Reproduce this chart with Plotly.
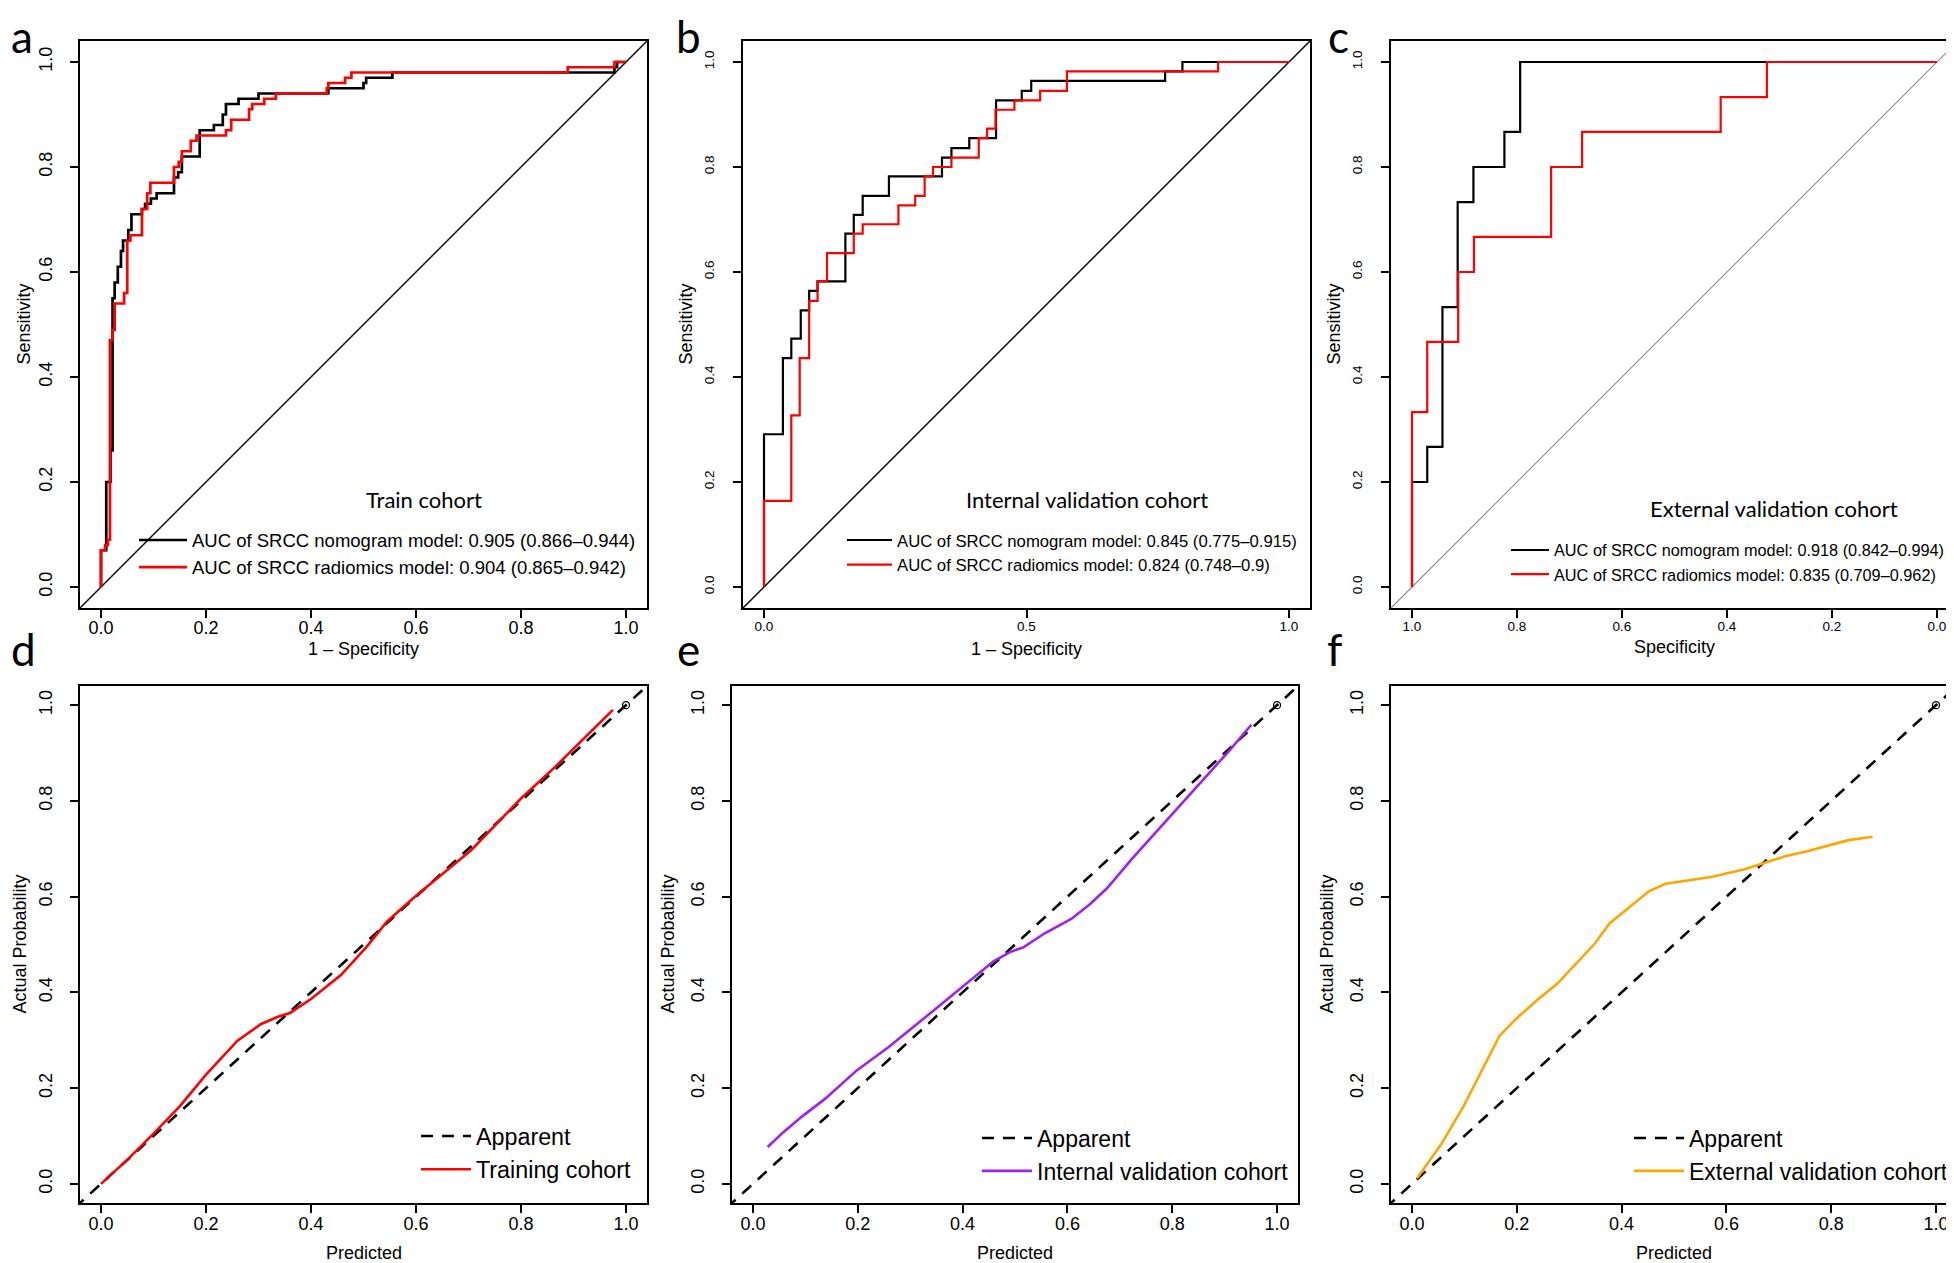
import plotly.graph_objects as go

W, H = 1954, 1263

# ---------------- DATA ----------------
# Panel a: Train cohort ROC (x = 1 - specificity, y = sensitivity)
a_nomo_fpr = [0, 0, 0.01, 0.018, 0.022, 0.026, 0.032, 0.038, 0.042, 0.052, 0.058, 0.078, 0.084, 0.095, 0.106,
              0.139, 0.147, 0.154, 0.188, 0.215, 0.232, 0.238, 0.262, 0.30, 0.433, 0.50, 0.505, 0.555, 0.978, 0.983, 1.0]
a_nomo_tpr = [0, 0.07, 0.20, 0.26, 0.55, 0.58, 0.61, 0.64, 0.66, 0.68, 0.71, 0.72, 0.73, 0.74, 0.75,
              0.78, 0.79, 0.82, 0.87, 0.88, 0.90, 0.92, 0.93, 0.94, 0.95, 0.96, 0.97, 0.98, 0.99, 1.0, 1.0]
a_radi_fpr = [0, 0, 0.008, 0.013, 0.017, 0.022, 0.026, 0.044, 0.05, 0.056, 0.078, 0.088, 0.094, 0.139, 0.148,
              0.154, 0.171, 0.182, 0.238, 0.248, 0.282, 0.288, 0.311, 0.333, 0.43, 0.433, 0.465, 0.477, 0.889, 0.978, 1.0]
a_radi_tpr = [0, 0.07, 0.08, 0.09, 0.47, 0.49, 0.54, 0.56, 0.66, 0.67, 0.72, 0.75, 0.77, 0.80, 0.81,
              0.83, 0.85, 0.86, 0.87, 0.89, 0.91, 0.92, 0.93, 0.94, 0.95, 0.96, 0.97, 0.98, 0.99, 1.0, 1.0]

# Panel b: Internal validation cohort ROC
b_nomo_fpr = [0, 0, 0.036, 0.052, 0.07, 0.086, 0.102, 0.155, 0.171, 0.188, 0.238, 0.339, 0.357, 0.391,
              0.442, 0.491, 0.509, 0.764, 0.797, 1.0]
b_nomo_tpr = [0, 0.291, 0.436, 0.473, 0.527, 0.564, 0.582, 0.673, 0.709, 0.745, 0.782, 0.818, 0.836, 0.855,
              0.927, 0.945, 0.964, 0.982, 1.0, 1.0]
b_radi_fpr = [0, 0, 0.052, 0.068, 0.086, 0.102, 0.12, 0.171, 0.188, 0.256, 0.288, 0.306, 0.322, 0.357,
              0.409, 0.425, 0.441, 0.477, 0.526, 0.577, 0.865, 1.0]
b_radi_tpr = [0, 0.164, 0.327, 0.436, 0.545, 0.582, 0.636, 0.673, 0.691, 0.727, 0.745, 0.782, 0.80, 0.818,
              0.855, 0.873, 0.909, 0.927, 0.945, 0.982, 1.0, 1.0]

# Panel c: External validation cohort ROC (x = specificity, reversed axis)
c_nomo_spec = [1.0, 1.0, 0.971, 0.942, 0.913, 0.883, 0.824, 0.794, 0.0]
c_nomo_sens = [0, 0.2, 0.267, 0.533, 0.733, 0.8, 0.867, 1.0, 1.0]
c_radi_spec = [1.0, 1.0, 0.971, 0.912, 0.882, 0.735, 0.676, 0.412, 0.324, 0.0]
c_radi_sens = [0, 0.333, 0.467, 0.6, 0.667, 0.8, 0.867, 0.933, 1.0, 1.0]

roc_legend_labels = {
    "a": ["AUC of SRCC nomogram model: 0.905 (0.866\u20130.944)", "AUC of SRCC radiomics model: 0.904 (0.865\u20130.942)"],
    "b": ["AUC of SRCC nomogram model: 0.845 (0.775\u20130.915)", "AUC of SRCC radiomics model: 0.824 (0.748\u20130.9)"],
    "c": ["AUC of SRCC nomogram model: 0.918 (0.842\u20130.994)", "AUC of SRCC radiomics model: 0.835 (0.709\u20130.962)"],
}

# Calibration curves (predicted vs actual probability)
d_pred = [0.0, 0.05, 0.1, 0.15, 0.2, 0.26, 0.305, 0.337, 0.36, 0.40, 0.457, 0.505, 0.545, 0.60, 0.705, 0.80, 0.865, 0.975]
d_obs = [0.0, 0.05, 0.105, 0.162, 0.228, 0.299, 0.334, 0.349, 0.357, 0.386, 0.436, 0.494, 0.548, 0.602, 0.697, 0.805, 0.871, 0.99]
e_pred = [0.028, 0.058, 0.094, 0.138, 0.198, 0.259, 0.339, 0.399, 0.459, 0.492, 0.516, 0.556, 0.608, 0.644, 0.676,
          0.724, 0.797, 0.861, 0.909, 0.951]
e_obs = [0.077, 0.108, 0.141, 0.178, 0.237, 0.286, 0.357, 0.411, 0.465, 0.485, 0.494, 0.523, 0.554, 0.585, 0.618,
         0.680, 0.768, 0.846, 0.905, 0.959]
f_pred = [0.0095, 0.056, 0.097, 0.131, 0.167, 0.198, 0.238, 0.278, 0.31, 0.349, 0.377, 0.413, 0.452, 0.484, 0.516,
          0.571, 0.635, 0.675, 0.714, 0.754, 0.806, 0.833, 0.879]
f_obs = [0.011, 0.083, 0.159, 0.232, 0.309, 0.344, 0.383, 0.419, 0.456, 0.502, 0.544, 0.577, 0.611, 0.627, 0.632,
         0.641, 0.657, 0.672, 0.685, 0.695, 0.711, 0.718, 0.725]
ideal_line = [-0.05, 1.05]
ideal_point = [1.0]

cal_labels = ["Training cohort", "Internal validation cohort", "External validation cohort"]
cal_colors = ["#FF0000", "#A020F0", "#FFA500"]

ticks_02 = [0, 0.2, 0.4, 0.6, 0.8, 1.0]
ticks_02_text = ["0.0", "0.2", "0.4", "0.6", "0.8", "1.0"]
ticks_05 = [0, 0.5, 1.0]
ticks_05_text = ["0.0", "0.5", "1.0"]

# ---------------- LAYOUT ----------------
SANS = "Liberation Sans, Arial, sans-serif"
CAL = "Lato, Open Sans, sans-serif"

# panel boxes in pixels: left, right, top, bottom
BOX = {
    1: (72, 639, 33, 600),
    2: (735, 1302, 33, 600),
    3: (1383, 1950, 33, 600),
    4: (72, 639, 678, 1195),
    5: (724, 1290, 678, 1195),
    6: (1383, 1949, 678, 1195),
}

def sfx(i):
    return "" if i == 1 else str(i)

fig = go.Figure()

def roc_trace(x, y, color, width, name, i, leg):
    return go.Scatter(x=x, y=y, mode="lines", line=dict(color=color, width=width, shape="hv"),
                      name=name, legend=leg, legendgroup=name, xaxis="x" + sfx(i), yaxis="y" + sfx(i),
                      hoverinfo="skip")

fig.add_trace(roc_trace(a_nomo_fpr, a_nomo_tpr, "black", 2.7, roc_legend_labels["a"][0], 1, "legend"))
fig.add_trace(roc_trace(a_radi_fpr, a_radi_tpr, "#FF0000", 2.7, roc_legend_labels["a"][1], 1, "legend"))
fig.add_trace(roc_trace(b_nomo_fpr, b_nomo_tpr, "black", 2.2, roc_legend_labels["b"][0], 2, "legend2"))
fig.add_trace(roc_trace(b_radi_fpr, b_radi_tpr, "#FF0000", 2.2, roc_legend_labels["b"][1], 2, "legend2"))
fig.add_trace(roc_trace(c_nomo_spec, c_nomo_sens, "black", 2.2, roc_legend_labels["c"][0], 3, "legend3"))
fig.add_trace(roc_trace(c_radi_spec, c_radi_sens, "#FF0000", 2.2, roc_legend_labels["c"][1], 3, "legend3"))

cal_data = [(d_pred, d_obs), (e_pred, e_obs), (f_pred, f_obs)]
for k, (px_, ob) in enumerate(cal_data):
    i = 4 + k
    leg = "legend" + str(i)
    fig.add_trace(go.Scatter(x=ideal_line, y=ideal_line, mode="lines",
                             line=dict(color="black", width=2.6, dash="12px,9px"),
                             name="Apparent", legend=leg, legendgroup="app" + str(i),
                             xaxis="x" + sfx(i), yaxis="y" + sfx(i), hoverinfo="skip"))
    fig.add_trace(go.Scatter(x=px_, y=ob, mode="lines", line=dict(color=cal_colors[k], width=2.6),
                             name=cal_labels[k], legend=leg, legendgroup="cal" + str(i),
                             xaxis="x" + sfx(i), yaxis="y" + sfx(i), hoverinfo="skip"))
    fig.add_trace(go.Scatter(x=ideal_point, y=ideal_point, mode="markers",
                             marker=dict(symbol="circle-open", size=7, color="black", line=dict(width=1.3)),
                             showlegend=False, xaxis="x" + sfx(i), yaxis="y" + sfx(i), hoverinfo="skip"))

layout = dict(width=W, height=H, margin=dict(l=0, r=0, t=0, b=0), paper_bgcolor="white",
              plot_bgcolor="white", font=dict(family=SANS, color="black"), showlegend=True)

tick_fs = {1: 18, 2: 13.5, 3: 13.5, 4: 18, 5: 18, 6: 18}
x_standoff = {1: -5, 2: -3, 3: -3, 4: -4, 5: -4, 6: -4}
y_standoff = {1: 11, 2: 14, 3: 14, 4: 11, 5: 11, 6: 11}
for i, (l, r, t, b) in BOX.items():
    s = sfx(i)
    common = dict(ticks="outside", ticklen=8, tickwidth=1.6, tickcolor="black", showline=True,
                  linecolor="black", linewidth=1.7, mirror=True, showgrid=False, zeroline=False,
                  tickfont=dict(family=SANS, size=tick_fs[i], color="black"), fixedrange=True)
    if i == 2:
        xt, xtt = ticks_05, ticks_05_text
    elif i == 3:
        xt, xtt = ticks_02[::-1], ticks_02_text[::-1]
    else:
        xt, xtt = ticks_02, ticks_02_text
    xr = [1.04, -0.04] if i == 3 else [-0.04, 1.04]
    layout["xaxis" + s] = dict(domain=[l / W, r / W], anchor="y" + s, range=xr, tickvals=xt,
                               ticktext=xtt, ticklabelstandoff=x_standoff[i], **common)
    layout["yaxis" + s] = dict(domain=[1 - b / H, 1 - t / H], anchor="x" + s, range=[-0.04, 1.04],
                               tickvals=ticks_02, ticktext=ticks_02_text, tickangle=-90,
                               ticklabelstandoff=y_standoff[i], **common)

# legends: (text start x px, first item centre y px, font size, itemwidth, gap)
LEG = {
    1: (192, 539, 18.5, 48, 3),
    2: (897, 539, 16.7, 45, 4),
    3: (1554, 549, 16.3, 38, 0),
    4: (476, 1135, 23.3, 50, 0),
    5: (1037, 1137, 23, 50, 0),
    6: (1689, 1137, 23, 50, 0),
}
for i, (tx, cy, fs, iw, gap) in LEG.items():
    key = "legend" if i == 1 else "legend" + str(i)
    ox = tx - iw - 18
    top = cy - 5 - fs * 1.3 / 2 - 1.5 - 7
    layout[key] = dict(x=ox / W, y=1 - top / H, xanchor="left", yanchor="top", xref="paper", yref="paper",
                       bgcolor="rgba(0,0,0,0)", borderwidth=0, itemwidth=iw, tracegroupgap=gap,
                       traceorder="normal", font=dict(family=SANS, size=fs, color="black"))

fig.update_layout(**layout)

# diagonal reference lines on ROC panels
for i, col, wd in [(1, "black", 1.4), (2, "black", 1.4), (3, "#8c8c8c", 1.1)]:
    s = sfx(i)
    fig.add_shape(type="line", xref="x" + s + " domain", yref="y" + s + " domain", x0=0, y0=0, x1=1, y1=1,
                  line=dict(color=col, width=wd), layer="below")

ann = []
def text(x, y, t, size, family=SANS, angle=0, yanchor="middle"):
    ann.append(dict(x=x / W, y=1 - y / H, xref="paper", yref="paper", text=t, showarrow=False,
                    xanchor="center", yanchor=yanchor, textangle=angle,
                    font=dict(family=family, size=size, color="black")))

# panel letters (anchored by the top of their text box)
for lt, x, y in [("a", 14, 0), ("b", 680, 0), ("c", 1330, 0), ("d", 15, 613), ("e", 680, 613), ("f", 1326, 613)]:
    text(x, y, lt, 44, CAL, yanchor="top")

# axis titles
text(355.5, 641, "1 \u2013 Specificity", 18)
text(1018.5, 641, "1 \u2013 Specificity", 18)
text(1666.5, 639, "Specificity", 18)
text(15, 316.5, "Sensitivity", 18, angle=-90)
text(677, 316.5, "Sensitivity", 18, angle=-90)
text(1325, 316.5, "Sensitivity", 18, angle=-90)
for cx in [355.5, 1007, 1666]:
    text(cx, 1245, "Predicted", 18)
for cx in [11, 659, 1318]:
    text(cx, 936.5, "Actual Probability", 18, angle=-90)

# cohort titles
text(416, 491, "Train cohort", 22, CAL)
text(1079, 492, "Internal validation cohort", 22, CAL)
text(1766, 500, "External validation cohort", 22, CAL)

fig.update_layout(annotations=ann)
fig.write_html("out.html")
